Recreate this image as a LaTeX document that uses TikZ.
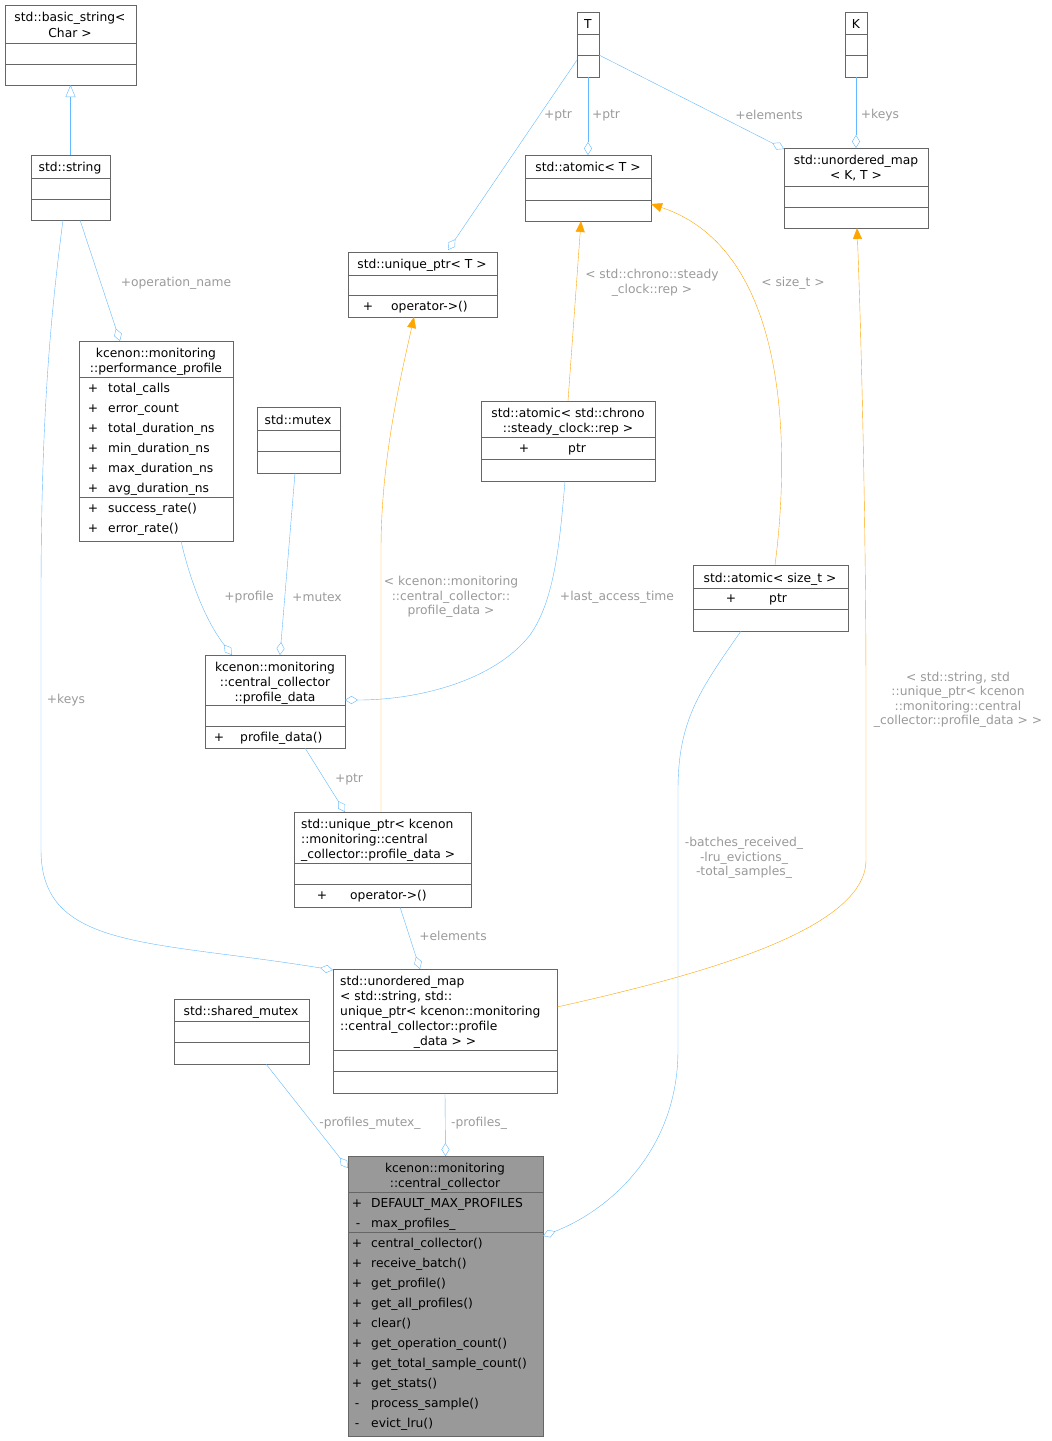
\documentclass[tikz,border=0pt]{standalone}
\usepackage{fontspec}
\setmainfont{DejaVu Sans}
\usetikzlibrary{arrows.meta}
\definecolor{edge}{HTML}{63B8FF}
\definecolor{lbl}{HTML}{9A9A9A}
\definecolor{bord}{HTML}{666666}
\definecolor{inh}{HTML}{FFA500}
\newcommand\ubox[5]{\node[box,anchor=north west,minimum width=#4-#2,minimum height=#5-#3] (#1) at (#2,#3) {};}
\newcommand\hl[3]{\draw[bord] (#1,#3) -- (#2,#3);}
\newcommand\ttl[3]{\node[txt] at (#1,#2) {#3};}
\newcommand\mem[4]{\node[txt] at (#1,#3) {#4};\node[txt,anchor=base west] at (#2,#3) {\strut\smash{#4}};}
\begin{document}
\begin{tikzpicture}[x=1pt,y=-1pt,
  box/.style={draw=bord,inner sep=0,outer sep=0},
  txt/.style={font=\fontsize{12.3}{15}\selectfont,inner sep=0,anchor=base},
  mtxt/.style={txt,anchor=base west},
  lab/.style={font=\fontsize{12.3}{14.5}\selectfont,text=lbl,align=center,inner sep=1pt},
  agg/.style={draw=edge,-{Diamond[open,length=13pt,width=8pt]}},
  tpl/.style={draw=inh,-{Triangle[length=11pt,width=9pt]}},
  ihr/.style={draw=edge,-{Triangle[open,length=12pt,width=10pt]}}]
\useasboundingbox (0,0) rectangle (1052,1441);
% basic_string
\ubox{bs}{5}{5}{136}{85}\hl{5}{136}{43}\hl{5}{136}{64}
\ttl{70}{21}{std::basic\_string<}\ttl{70}{37}{Char >}
% string
\ubox{str}{31}{155}{110}{220}\hl{31}{110}{178}\hl{31}{110}{199}
\ttl{70}{171}{std::string}
% T
\ubox{T}{577}{12}{599}{77}\hl{577}{599}{34}\hl{577}{599}{55}
\ttl{588}{28}{T}
% K
\ubox{K}{845}{12}{867}{77}\hl{845}{867}{34}\hl{845}{867}{55}
\ttl{856}{28}{K}
% atomic<T>
\ubox{aT}{525}{155}{651}{221}\hl{525}{651}{178}\hl{525}{651}{200}
\ttl{588}{171}{std::atomic< T >}
% unordered_map<K,T>
\ubox{umKT}{784}{148}{928}{228}\hl{784}{928}{186}\hl{784}{928}{207}
\ttl{856}{164}{std::unordered\_map}\ttl{856}{179}{< K, T >}
% unique_ptr<T>
\ubox{upT}{348}{252}{497}{317}\hl{348}{497}{275}\hl{348}{497}{295}
\ttl{422}{268}{std::unique\_ptr< T >}
\node[txt] at (368,310) {+};\node[mtxt] at (391,310) {operator->()};
% performance_profile
\ubox{pp}{79}{341}{233}{541}\hl{79}{233}{377}\hl{79}{233}{497}
\ttl{156}{357}{kcenon::monitoring}\ttl{156}{372}{::performance\_profile}
\foreach \t [count=\i] in {total\_calls,error\_count,total\_duration\_ns,min\_duration\_ns,max\_duration\_ns,avg\_duration\_ns,success\_rate(),error\_rate()}{
  \node[txt] at (93,{372+20*\i}) {+};\node[mtxt] at (108,{372+20*\i}) {\t};}
% mutex
\ubox{mtx}{257}{407}{340}{473}\hl{257}{340}{430}\hl{257}{340}{451}
\ttl{298}{424}{std::mutex}
% atomic chrono
\ubox{aC}{481}{401}{655}{481}\hl{481}{655}{437}\hl{481}{655}{459}
\ttl{568}{417}{std::atomic< std::chrono}\ttl{568}{432}{::steady\_clock::rep >}
\node[txt] at (524,452) {+};\node[mtxt] at (568,452) {ptr};
% atomic size_t
\ubox{aS}{693}{565}{848}{631}\hl{693}{848}{588}\hl{693}{848}{609}
\ttl{770}{582}{std::atomic< size\_t >}
\node[txt] at (731,602) {+};\node[mtxt] at (769,602) {ptr};
% profile_data
\ubox{pd}{205}{655}{345}{748}\hl{205}{345}{705}\hl{205}{345}{726}
\ttl{275}{671}{kcenon::monitoring}\ttl{275}{686}{::central\_collector}\ttl{275}{701}{::profile\_data}
\node[txt] at (219,741) {+};\node[mtxt] at (240,741) {profile\_data()};
% unique_ptr<profile_data>
\ubox{upP}{294}{812}{471}{907}\hl{294}{471}{863}\hl{294}{471}{884}
\node[mtxt] at (301,828) {std::unique\_ptr< kcenon};
\node[mtxt] at (301,843) {::monitoring::central};
\node[mtxt] at (301,858) {\_collector::profile\_data >};
\node[txt] at (322,899) {+};\node[mtxt] at (350,899) {operator->()};
% big map
\ubox{um}{333}{969}{557}{1093}\hl{333}{557}{1050}\hl{333}{557}{1071}
\node[mtxt] at (340,985) {std::unordered\_map};
\node[mtxt] at (340,1000) {< std::string, std::};
\node[mtxt] at (340,1015) {unique\_ptr< kcenon::monitoring};
\node[mtxt] at (340,1030) {::central\_collector::profile};
\ttl{445}{1045}{\_data > >}
% shared_mutex
\ubox{sm}{174}{999}{309}{1064}\hl{174}{309}{1021}\hl{174}{309}{1042}
\ttl{241}{1015}{std::shared\_mutex}
% central_collector
\node[box,fill=black!40,anchor=north west,minimum width=195,minimum height=280] (cc) at (348,1156) {};
\hl{348}{543}{1192}\hl{348}{543}{1232}
\ttl{445}{1172}{kcenon::monitoring}\ttl{445}{1187}{::central\_collector}
\node[txt] at (357,1207) {+};\node[mtxt] at (371,1207) {DEFAULT\_MAX\_PROFILES};
\node[txt] at (358,1227) {-};\node[mtxt] at (371,1227) {max\_profiles\_};
\foreach \t/\s [count=\i] in {central\_collector()/+,receive\_batch()/+,get\_profile()/+,get\_all\_profiles()/+,clear()/+,get\_operation\_count()/+,get\_total\_sample\_count()/+,get\_stats()/+,process\_sample()/-,evict\_lru()/-}{
  \node[txt] at (357,{1227+20*\i}) {\s};\node[mtxt] at (371,{1227+20*\i}) {\t};}
% ---- edges
\draw[ihr] (str.north) -- (bs.south);
\draw[agg] (T.west |- 0,60) -- (448,250) ;
\node[lab] at (558,115) {+ptr};
\draw[agg] (T.south) -- (aT.north);
\node[lab] at (606,115) {+ptr};
\draw[agg] (599,55) -- (784,149);
\node[lab] at (769,115) {+elements};
\draw[agg] (K.south) -- (umKT.north);
\node[lab] at (880,115) {+keys};
\draw[agg] (80,220) -- (120,341);
\node[lab] at (176,283) {+operation\_name};
\draw[agg] (63,220) .. controls (50,320) and (41,420) .. (41,600) -- (41,850) .. controls (41,950) and (150,940) .. (333,970);
\node[lab] at (66,700) {+keys};
\draw[agg] (181,541) .. controls (190,580) and (205,620) .. (232,655);
\node[lab] at (249,597) {+profile};
\draw[agg] (295,473) -- (280,655);
\node[lab] at (317,597) {+mutex};
\draw[agg] (565,481) .. controls (560,540) and (555,600) .. (530,635) .. controls (495,680) and (420,700) .. (345,700);
\node[lab] at (617,597) {+last\_access\_time};
\draw[tpl] (568,401) -- (581,221);
\node[lab] at (652,283) {< std::chrono::steady\\\_clock::rep >};
\draw[tpl] (775,565) .. controls (790,450) and (790,250) .. (651,204);
\node[lab] at (793,283) {< size\_t >};
\draw[tpl] (381,812) -- (381,550) .. controls (381,460) and (400,380) .. (414,317);
\node[lab,fill=white] at (451,597) {< kcenon::monitoring\\::central\_collector::\\profile\_data >};
\draw[agg] (305,748) -- (345,812);
\node[lab] at (349,779) {+ptr};
\draw[agg] (400,907) -- (420,969);
\node[lab] at (453,936) {+elements};
\draw[tpl] (557,1007) .. controls (700,975) and (866,930) .. (866,860) -- (866,700) .. controls (866,500) and (860,300) .. (857,228);
\node[lab,fill=white] at (958,700) {< std::string, std\\::unique\_ptr< kcenon\\::monitoring::central\\\_collector::profile\_data > >};
\draw[agg] (741,631) .. controls (700,690) and (678,720) .. (678,790) -- (678,1050) .. controls (678,1150) and (610,1210) .. (543,1236);
\node[lab,fill=white] at (744,858) {-batches\_received\_\\-lru\_evictions\_\\-total\_samples\_};
\draw[agg] (266,1064) -- (348,1168);
\node[lab] at (370,1123) {-profiles\_mutex\_};
\draw[agg] (um.south) -- (cc.north);
\node[lab] at (479,1123) {-profiles\_};
\end{tikzpicture}
\end{document}
